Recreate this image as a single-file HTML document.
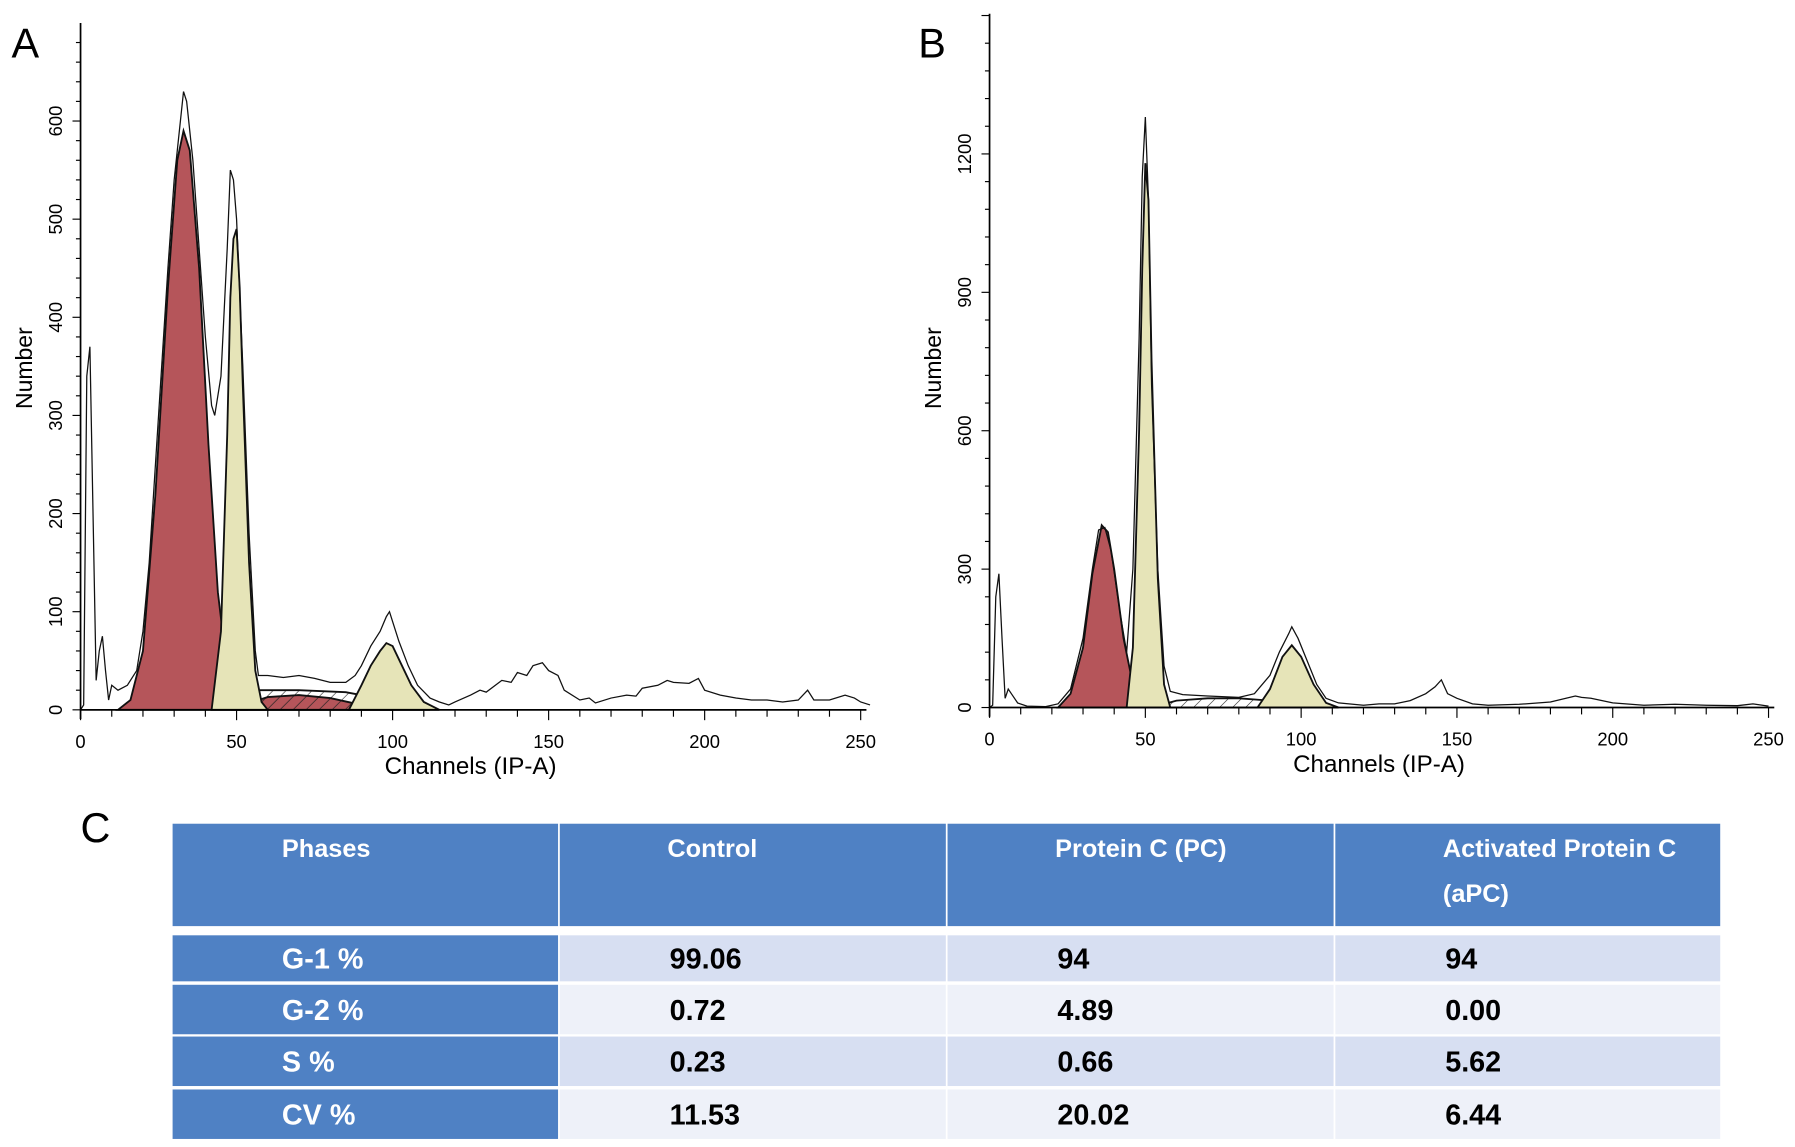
<!DOCTYPE html>
<html><head><meta charset="utf-8"><style>
html,body{margin:0;padding:0;background:#fff;}
svg{display:block;}
</style></head><body>
<svg id="fig" width="1795" height="1147" viewBox="0 0 1560 997" preserveAspectRatio="none" xmlns="http://www.w3.org/2000/svg" font-family="'Liberation Sans', sans-serif">
<defs>
<pattern id="hatchR" patternUnits="userSpaceOnUse" width="8" height="8" patternTransform="rotate(45)"><rect width="8" height="8" fill="#b5555a"/><line x1="0" y1="0" x2="0" y2="8" stroke="#222" stroke-width="1.2"/></pattern>
<pattern id="hatchW" patternUnits="userSpaceOnUse" width="8" height="8" patternTransform="rotate(45)"><rect width="8" height="8" fill="#fff"/><line x1="0" y1="0" x2="0" y2="8" stroke="#222" stroke-width="1"/></pattern>
</defs>
<g id="panelA"></g>
<g id="panelB"></g>
<text x="10" y="50" font-size="36">A</text>
<text x="798" y="50" font-size="36">B</text>
<text x="70" y="732" font-size="36">C</text>
<g id="table" font-family="'Liberation Sans Narrow','Liberation Sans',sans-serif" font-weight="bold"></g>
</svg>
<script>
// Panel A data (channel, count)
const rawA_ch=[0,1,2,3,4,5,6,7,8,9,10,12,15,18,20,22,25,28,30,32,33,34,36,38,40,42,43,45,47,48,49,50,52,54,56,57,60,65,70,75,80,85,88,90,93,96,98,99,100,102,105,108,112,115,118,120,125,128,130,135,138,140,143,145,148,150,153,155,160,163,165,170,175,178,180,185,188,190,195,198,200,205,210,215,220,225,230,233,235,240,245,248,250,253];
const rawA_n=[0,5,340,370,200,30,60,75,40,10,25,20,25,40,80,150,300,450,540,600,630,620,560,470,380,310,300,340,470,550,540,500,350,180,60,35,35,33,35,32,28,28,35,45,65,80,95,100,90,70,45,25,12,8,5,8,15,20,18,30,28,38,35,45,48,40,35,20,10,12,7,12,15,14,22,25,30,28,27,32,20,15,12,10,10,8,10,20,10,10,15,12,8,5];
const g1A_ch=[12,16,20,24,28,31,33,35,38,41,44,47,50,53];
const g1A_n=[0,10,60,220,430,560,590,570,450,270,120,40,10,0];
const g2A_ch=[42,45,47,48,49,50,51,52,54,56,58,60];
const g2A_n=[0,80,280,420,480,490,430,330,150,40,8,0];
const g2bA_ch=[86,90,93,96,98,100,103,106,110,115];
const g2bA_n=[0,25,45,60,68,65,45,25,8,0];
const sA_ch=[48,55,60,70,80,90,100];
const sA_n=[0,8,13,15,12,5,0];
const sWA_ch=[50,55,70,85,95,105,112];
const sWA_n=[0,20,20,18,12,4,0];
// Panel B data
const rawB_ch=[0,1,2,3,4,5,6,7,9,12,18,22,26,30,33,35,37,39,42,44,46,48,49,50,51,52,54,56,58,62,70,80,85,90,93,96,97,99,102,105,108,112,120,125,130,135,140,143,145,147,150,155,160,170,180,188,190,193,200,210,220,230,240,245,250];
const rawB_n=[0,5,240,290,150,20,40,30,10,3,2,8,40,150,300,385,390,340,200,120,300,800,1150,1280,1100,700,300,90,35,28,25,22,30,70,120,160,175,150,100,50,20,10,5,8,8,15,30,45,60,30,20,8,5,7,12,25,22,20,10,5,7,5,4,8,3];
const g1B_ch=[22,26,30,33,36,38,40,43,46,50];
const g1B_n=[0,30,130,290,395,380,300,150,50,0];
const g2B_ch=[44,46,48,49,50,51,52,54,56,58];
const g2B_n=[0,130,600,950,1180,1100,750,280,50,0];
const g2bB_ch=[86,90,94,97,100,104,108,112];
const g2bB_n=[0,40,110,135,110,50,10,0];
const sB_ch=[52,60,70,80,90,100,108];
const sB_n=[0,15,20,20,15,6,0];
const xTicksA=[0,50,100,150,200,250];
const yTicksA=[0,100,200,300,400,500,600];
const yTicksB=[0,300,600,900,1200];
// Table data
const headers=[["Phases"],["Control"],["Protein C (PC)"],["Activated Protein C","(aPC)"]];
const rowLabels=["G-1 %","G-2 %","S %","CV %"];
const controlVals=["99.06","0.72","0.23","11.53"];
const pcVals=["94","4.89","0.66","20.02"];
const apcVals=["94","0.00","5.62","6.44"];

const NS="http://www.w3.org/2000/svg";
function mk(tag,attrs,parent){const e=document.createElementNS(NS,tag);for(const k in attrs)e.setAttribute(k,attrs[k]);parent.appendChild(e);return e;}

function panel(g,cfg){
  const sx=c=>cfg.x0+(c/250)*(cfg.x1-cfg.x0);
  const sy=v=>cfg.y0-v*cfg.ky;
  function area(ch,n,fill,name){
    let d="M"+sx(ch[0])+","+sy(0);
    ch.forEach((c,i)=>d+=" L"+sx(c)+","+sy(n[i]));
    d+=" L"+sx(ch[ch.length-1])+","+sy(0)+" Z";
    const p=mk("path",{d:d,fill:fill,stroke:"#111","stroke-width":1.6},g);
    
    
  }
  cfg.areas.forEach(a=>area(a[0],a[1],a[2],a[3]));
  let d="";
  cfg.raw[0].forEach((c,i)=>d+=(i?" L":"M")+sx(c)+","+sy(cfg.raw[1][i]));
  const ln=mk("path",{d:d,fill:"none",stroke:"#111","stroke-width":1.1},g);
  
  
  // axes
  const ax=mk("line",{x1:cfg.x0,y1:cfg.yTop,x2:cfg.x0,y2:cfg.y0+8,stroke:"#000","stroke-width":1.5},g);
  
  
  const bx=mk("line",{x1:cfg.x0,y1:cfg.y0,x2:cfg.x1+5,y2:cfg.y0,stroke:"#000","stroke-width":1.5},g);
  
  
  for(let c=0;c<=250;c+=10){
    mk("line",{x1:sx(c),y1:cfg.y0,x2:sx(c),y2:cfg.y0+(c%50===0?9:6),stroke:"#000","stroke-width":1},g);
  }
  xTicksA.forEach(t=>{
    const tx=mk("text",{x:sx(t),y:cfg.y0+33,"font-size":16,"text-anchor":"middle"},g);
    tx.textContent=t;
    
    
  });
  const step=cfg.yTicks[1]/5;
  for(let v=0;sy(v)>=cfg.yTop;v+=step){
    const big=Math.abs(v/cfg.yTicks[1]-Math.round(v/cfg.yTicks[1]))<1e-6;
    mk("line",{x1:cfg.x0-(big?7:4),y1:sy(v),x2:cfg.x0,y2:sy(v),stroke:"#000","stroke-width":1},g);
  }
  cfg.yTicks.forEach(t=>{
    const tx=mk("text",{x:cfg.x0-16,y:sy(t),"font-size":16,"text-anchor":"middle",transform:"rotate(-90 "+(cfg.x0-16)+" "+sy(t)+")"},g);
    tx.textContent=t;
    
    
  });
  const yt=mk("text",{x:cfg.x0-42,y:320,"font-size":20,"text-anchor":"middle",transform:"rotate(-90 "+(cfg.x0-42)+" 320)"},g);
  yt.textContent="Number";
  
  
  const xt=mk("text",{x:sx(125),y:cfg.y0+56,"font-size":21,"text-anchor":"middle"},g);
  xt.textContent="Channels (IP-A)";
  
  
}
panel(document.getElementById("panelA"),{x0:70,x1:748,y0:617,yTop:20,ky:0.853,yTicks:yTicksA,raw:[rawA_ch,rawA_n],
  areas:[[sWA_ch,sWA_n,"url(#hatchW)","s-phase-outline"],[sA_ch,sA_n,"url(#hatchR)","s-phase-area"],[g1A_ch,g1A_n,"#b5555a","g1-peak"],[g2A_ch,g2A_n,"#e6e4b8","g2-peak"],[g2bA_ch,g2bA_n,"#e6e4b8","g2m-peak"]]});
panel(document.getElementById("panelB"),{x0:860,x1:1537,y0:615,yTop:12,ky:0.401,yTicks:yTicksB,raw:[rawB_ch,rawB_n],
  areas:[[sB_ch,sB_n,"url(#hatchW)","s-phase-area"],[g1B_ch,g1B_n,"#b5555a","g1-peak"],[g2B_ch,g2B_n,"#e6e4b8","g2-peak"],[g2bB_ch,g2bB_n,"#e6e4b8","g2m-peak"]]});

// table
const tg=document.getElementById("table");
const colX=[150,485,822,1159,1495];
const rowY=[[813,853],[856,899],[901,944],[947,990]];
for(let c=0;c<4;c++){
  const r=mk("rect",{x:colX[c]+(c?1.5:0),y:716,width:colX[c+1]-colX[c]-(c?1.5:0),height:89,fill:"#4f81c4"},tg);
  
  
  headers[c].forEach((h,i)=>{
    const t=mk("text",{x:colX[c]+95,y:745+i*39,"font-size":22,fill:"#fff"},tg);
    t.textContent=h;
    
    
  });
}
const cols=[controlVals,pcVals,apcVals];
rowLabels.forEach((lab,r)=>{
  const [y0,y1]=rowY[r];
  const lr=mk("rect",{x:150,y:y0,width:335,height:y1-y0,fill:"#4f81c4"},tg);
  
  
  const lt=mk("text",{x:245,y:(y0+y1)/2+9,"font-size":25,fill:"#fff"},tg);
  lt.textContent=lab;
  
  
  for(let c=0;c<3;c++){
    const cr=mk("rect",{x:colX[c+1]+1.5,y:y0,width:colX[c+2]-colX[c+1]-1.5,height:y1-y0,fill:r%2===0?"#d7dff2":"#eef1f9"},tg);
    
    
    const ct=mk("text",{x:colX[c+1]+97,y:(y0+y1)/2+9,"font-size":25,fill:"#000"},tg);
    ct.textContent=cols[c][r];
    
    
  }
});
</script>
</body></html>
